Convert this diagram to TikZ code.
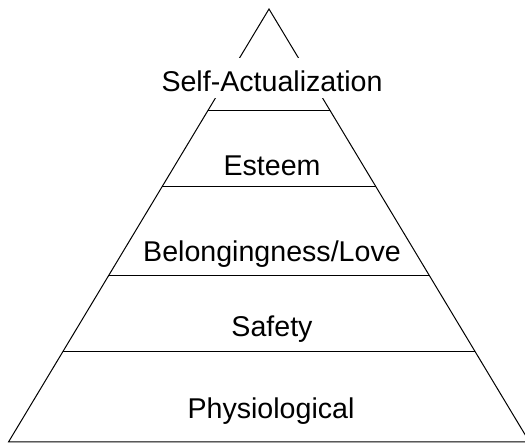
\documentclass[tikz,border=0pt]{standalone}
\usepackage{fontspec}
\setmainfont{Liberation Sans}
\begin{document}
\begin{tikzpicture}[x=1pt,y=-1pt,line width=1pt,
		every node/.style={font=\fontsize{28.6}{34}\selectfont,anchor=base,inner sep=0pt}]
			\useasboundingbox (0,0) rectangle (525,443);
			
			\coordinate (a) at (269,9);
			\coordinate (b1) at (8.5,442);
			\coordinate (b2) at (529.5,442);
			
			\coordinate (l1) at (207.6,111);
			\coordinate (l2) at (161.9,187);
			\coordinate (l3) at (108.4,276);
			\coordinate (l4) at (62.6,352);
			\coordinate (r1) at (330.4,111);
			\coordinate (r2) at (376.1,187);
			\coordinate (r3) at (429.6,276);
			\coordinate (r4) at (475.4,352);
			
			\draw (b1)--(a)--(b2)--cycle;
			\draw (l1)--(r1);
			\draw (l2)--(r2);
			\draw (l3)--(r3);
			\draw (l4)--(r4);
			
			\node[fill=white,text height=34pt,text depth=6pt] (n1) at (272,92) {Self-Actualization};
			\node (n2) at (272,176) {Esteem};
			\node (n3) at (272,262) {Belongingness/Love};
			\node (n4) at (272,337) {Safety};
			\node (n5) at (271,419) {Physiological};
		\end{tikzpicture}
\end{document}
